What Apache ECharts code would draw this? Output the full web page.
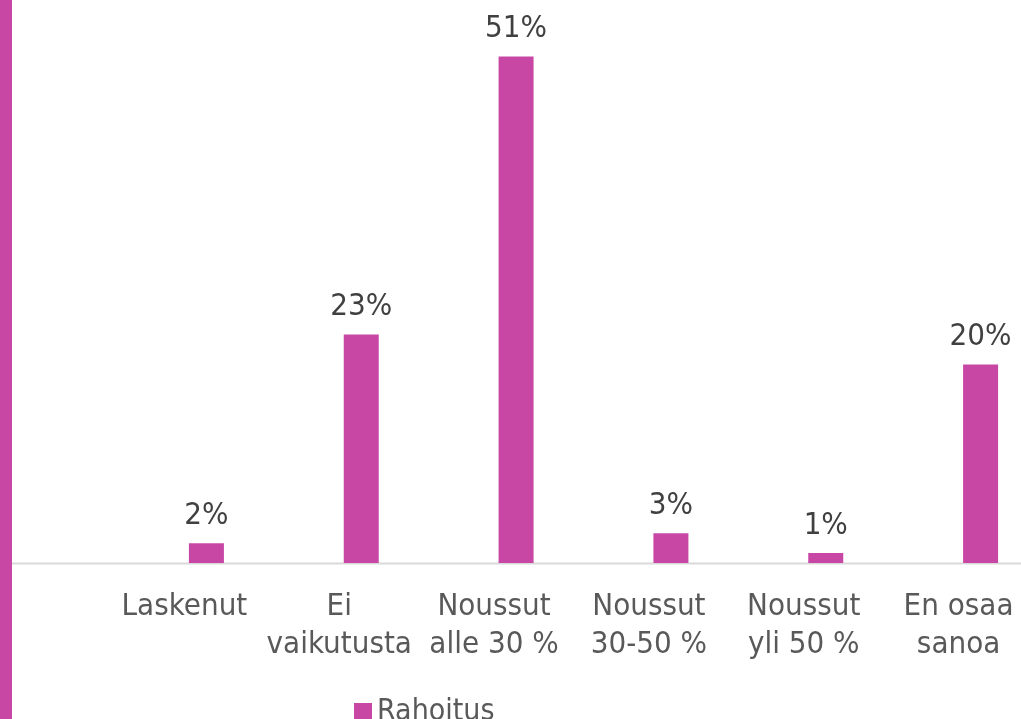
<!DOCTYPE html>
<html>
<head>
<meta charset="utf-8">
<script src="https://cdn.jsdelivr.net/npm/echarts@6/dist/echarts.min.js"></script>
<style>
html,body{margin:0;padding:0;background:#fff;}
#chart{width:1021px;height:719px;}
</style>
</head>
<body>
<div id="chart"></div>
<script>
const categories = ['Laskenut', 'Ei\nvaikutusta', 'Noussut\nalle 30 %', 'Noussut\n30-50 %', 'Noussut\nyli 50 %', 'En osaa\nsanoa'];
const seriesName = 'Rahoitus';
const values = [2, 23, 51, 3, 1, 20];

const FONT = '"DejaVu Sans Condensed", "DejaVu Sans", sans-serif';
const MAG = '#C847A5';

const chart = echarts.init(document.getElementById('chart'), null, {renderer: 'canvas'});
chart.setOption({
  animation: false,
  backgroundColor: '#ffffff',
  grid: {left: 129, width: 929, top: 0, height: 563, containLabel: false, outerBoundsMode: 'none'},
  xAxis: {
    type: 'category',
    data: categories,
    axisLine: {show: false},
    axisTick: {show: false},
    splitLine: {show: false},
    axisLabel: {
      interval: 0,
      color: '#595959',
      fontFamily: FONT,
      fontSize: 31,
      lineHeight: 38,
      margin: 25,
      padding: [0, 44, 0, 0]
    }
  },
  yAxis: {
    type: 'value', min: 0, max: 56.7,
    show: false,
    splitLine: {show: false}
  },
  legend: {
    data: [seriesName],
    left: 349, top: 692,
    itemWidth: 18, itemHeight: 18, itemGap: 10,
    icon: 'rect',
    textStyle: {color: '#595959', fontFamily: FONT, fontSize: 30}
  },
  series: [{
    name: seriesName,
    type: 'bar',
    data: values,
    barWidth: 35,
    itemStyle: {color: MAG},
    label: {
      show: true, position: 'top', distance: 12,
      formatter: '{c}%',
      color: '#404040', fontFamily: FONT, fontSize: 31
    }
  }]
});
const baseY = Math.round(chart.convertToPixel({yAxisIndex: 0}, 0)) + 0.5;
chart.setOption({
  graphic: [
    {type: 'line', shape: {x1: 12, y1: baseY, x2: 1021, y2: baseY}, style: {stroke: '#D9D9D9', lineWidth: 2}, z: -1},
    {type: 'rect', left: 0, top: 0, shape: {width: 12, height: 719}, style: {fill: MAG}, z: 10}
  ]
});
</script>
</body>
</html>
